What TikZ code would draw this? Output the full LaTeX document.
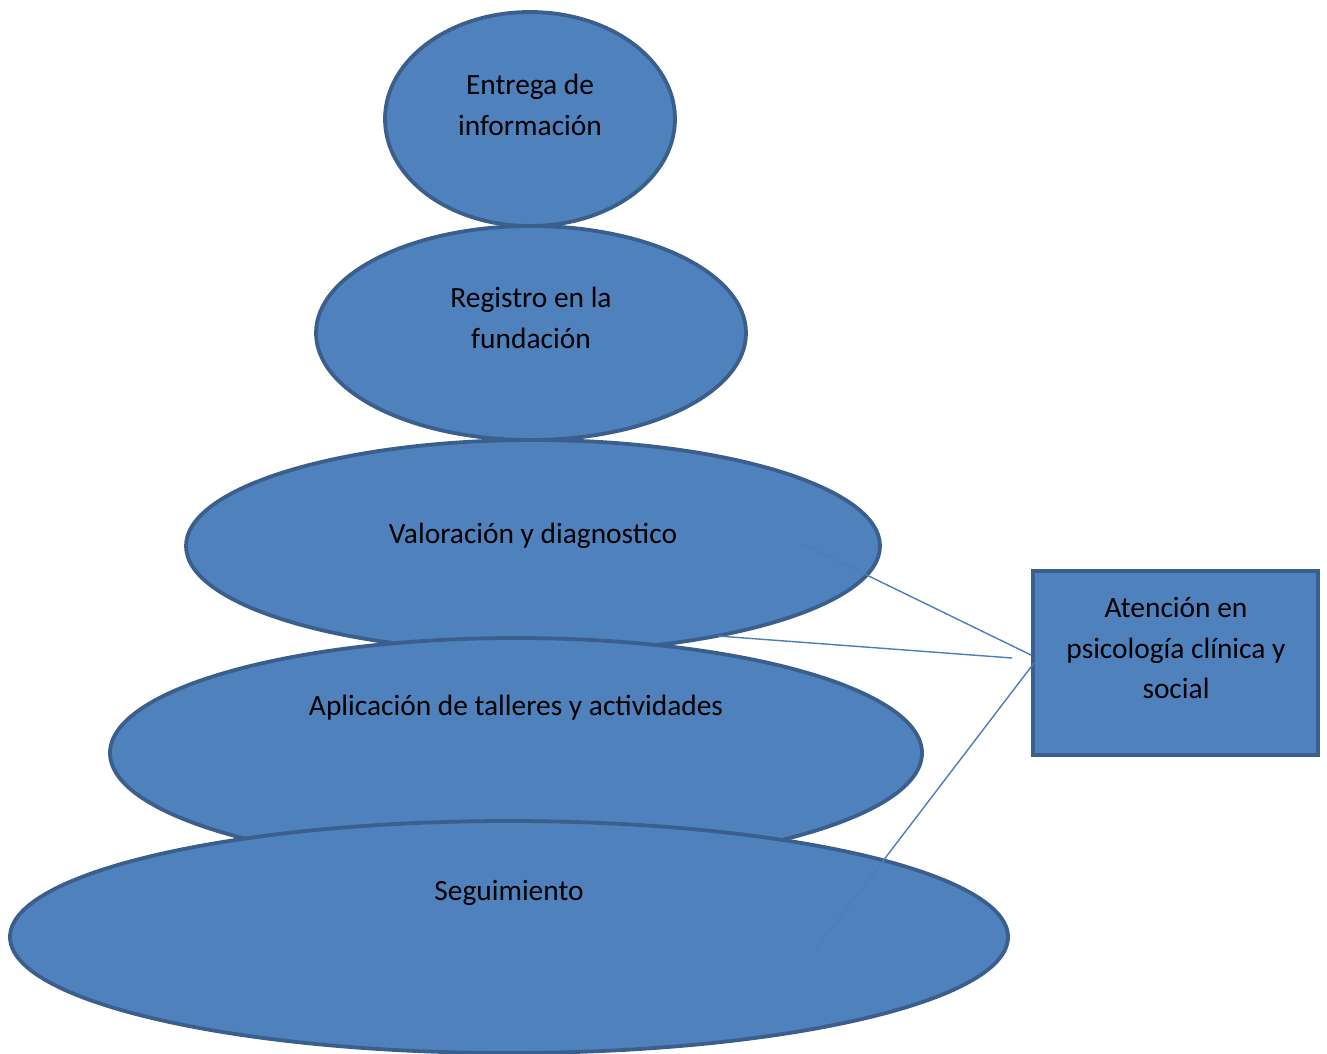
\documentclass[tikz,border=0pt]{standalone}
\usepackage{fontspec}
\setmainfont{Carlito}
\usetikzlibrary{shapes.geometric}
\definecolor{fillblue}{HTML}{4F81BD}
\definecolor{edgeblue}{HTML}{3A5F8D}
\definecolor{linkblue}{HTML}{4A7EBB}
\tikzset{
  stone/.style={ellipse, draw=edgeblue, fill=fillblue, line width=3.8pt, inner sep=0pt},
  lbl/.style={align=center, font=\fontsize{29.4}{40.5}\selectfont, text=black, inner sep=0pt},
  boxnode/.style={rectangle, draw=edgeblue, fill=fillblue, line width=3.8pt, inner sep=0pt},
  link/.style={draw=linkblue, line width=1.4pt}
}
\begin{document}
\begin{tikzpicture}[x=1pt,y=-1pt]
\useasboundingbox (0,0) rectangle (1327,1054);
\node[stone, minimum width=290pt, minimum height=214pt] (e1) at (530,119) {};
\node[stone, minimum width=430pt, minimum height=214pt] (e2) at (531,333) {};
\node[stone, minimum width=694pt, minimum height=212pt] (e3) at (533,546) {};
\node[stone, minimum width=812pt, minimum height=230pt] (e4) at (516,753) {};
\node[stone, minimum width=998pt, minimum height=232pt] (e5) at (509,937) {};
\node[boxnode, minimum width=285pt, minimum height=184pt] (box) at (1175.5,663) {};
\node[lbl] (t1) at (530,105) {Entrega de\\información};
\node[lbl] (t2) at (531,318) {Registro en la\\fundación};
\node[lbl] (t3) at (533,536) {Valoración y diagnostico};
\node[lbl] (t4) at (516,708) {Aplicación de talleres y actividades};
\node[lbl] (t5) at (509,893) {Seguimiento};
\node[lbl] (tb) at (1176,648) {Atención en\\psicología clínica y\\social};
\coordinate (a1) at (803,544);
\coordinate (b1) at (1031,655);
\coordinate (a2) at (718,636);
\coordinate (b2) at (1012,658);
\coordinate (a3) at (815,950);
\coordinate (b3) at (1034,663);
\draw[link] (a1) -- (b1);
\draw[link] (a2) -- (b2);
\draw[link] (b3) -- (a3);
\end{tikzpicture}
\end{document}
